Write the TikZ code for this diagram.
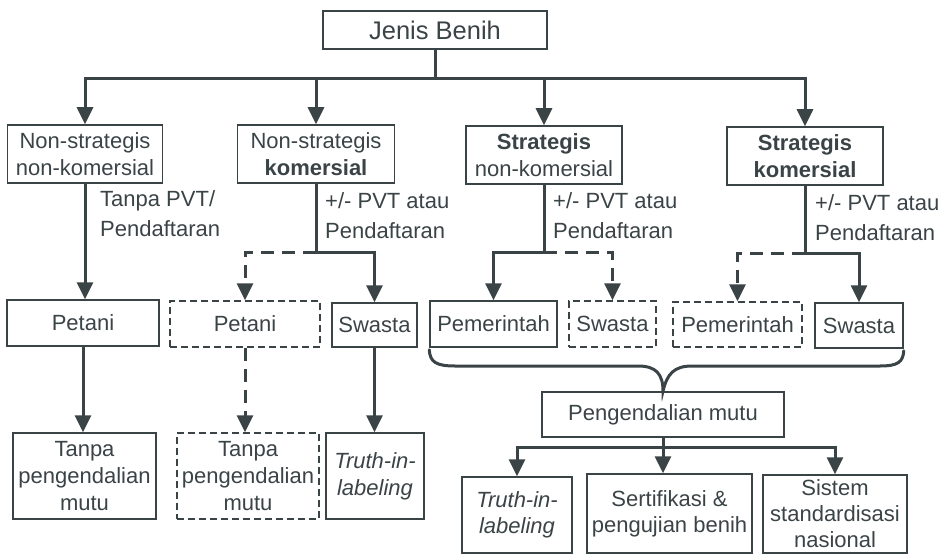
\documentclass[tikz,border=0pt]{standalone}
\usepackage{fontspec}
\setmainfont{Liberation Sans}
\usetikzlibrary{arrows.meta,calc}
\definecolor{ink}{HTML}{3A4346}
\newcommand\boxfont{\fontsize{22}{27}\selectfont}
\newcommand\labfont{\fontsize{22}{30}\selectfont}
\tikzset{
  box/.style={draw=ink, line width=1.5pt, text=ink, align=center, inner sep=0pt, font=\boxfont},
  dbox/.style={box, dash pattern=on 7pt off 4pt},
  lab/.style={text=ink, align=left, inner sep=0pt, anchor=north west, font=\labfont},
  conn/.style={draw=ink, line width=3pt},
  arr/.style={conn, -{Triangle[width=16pt,length=17pt]}},
  darr/.style={arr, dash pattern=on 13pt off 8pt},
}
\begin{document}
\begin{tikzpicture}[x=1pt,y=-1pt]
\useasboundingbox (0,0) rectangle (949,556);

% top level
\node[box, minimum width=224pt, minimum height=38pt, font=\fontsize{25.5}{28}\selectfont] (title) at (435,30) {Jenis Benih};

% first row: kinds of seed
\node[box, minimum width=155pt, minimum height=58pt] (b1) at (85,154) {Non-strategis\\non-komersial};
\node[box, minimum width=157pt, minimum height=58pt] (b2) at (316,154) {Non-strategis\\\textbf{komersial}};
\node[box, minimum width=156pt, minimum height=58pt] (b3) at (544,155) {\textbf{Strategis}\\non-komersial};
\node[box, minimum width=156pt, minimum height=58pt] (b4) at (805,156) {\textbf{Strategis}\\\textbf{komersial}};

% labels under the first row
\node[lab] (l1) at (100,190) {Tanpa PVT/\\Pendaftaran};
\node[lab] (l2) at (325,192) {+/- PVT atau\\Pendaftaran};
\node[lab] (l3) at (553,192) {+/- PVT atau\\Pendaftaran};
\node[lab] (l4) at (815,194) {+/- PVT atau\\Pendaftaran};

% second row: who handles the seed
\node[box, minimum width=152pt, minimum height=46pt] (p1) at (83,323) {Petani};
\node[dbox, minimum width=150pt, minimum height=46pt] (pd2) at (245,324) {Petani};
\node[box, minimum width=85pt, minimum height=44pt] (s2) at (374.5,325) {Swasta};
\node[box, minimum width=127pt, minimum height=46pt] (pm3) at (493.5,324) {Pemerintah};
\node[dbox, minimum width=87pt, minimum height=46pt] (sd3) at (612.5,324) {Swasta};
\node[dbox, minimum width=129pt, minimum height=45pt] (pmd4) at (737.5,324.5) {Pemerintah};
\node[box, minimum width=88pt, minimum height=45pt] (s4) at (859,325.5) {Swasta};

% third row, left part
\node[box, minimum width=143pt, minimum height=86pt] (t1) at (84.5,476) {Tanpa\\pengendalian\\mutu};
\node[dbox, minimum width=142pt, minimum height=86pt] (td2) at (248,476) {Tanpa\\pengendalian\\mutu};
\node[box, minimum width=98pt, minimum height=86pt] (tl2) at (375,476) {\textit{Truth-in-}\\\textit{labeling}};

% quality control
\node[box, minimum width=242pt, minimum height=45pt] (pg) at (663,414.5) {Pengendalian mutu};
\node[box, minimum width=110pt, minimum height=76pt, font=\fontsize{22}{26}\selectfont] (q1) at (517,515) {\textit{Truth-in-}\\\textit{labeling}};
\node[box, minimum width=165pt, minimum height=79pt, font=\fontsize{22}{26}\selectfont] (q2) at (669.5,513.5) {Sertifikasi \&\\pengujian benih};
\node[box, minimum width=144pt, minimum height=78pt, font=\fontsize{22}{26}\selectfont] (q3) at (835,514) {Sistem\\standardisasi\\nasional};

% branch points
\coordinate (j0) at (435,79);
\coordinate (k2) at (316,252);
\coordinate (k3) at (544,252);
\coordinate (k4) at (805,253);
\coordinate (k5) at ($(pg.south)+(0,10)$);

% connectors from the top
\draw[conn] (title.south) -- (j0);
\draw[arr] (j0) -| (b1);
\draw[arr] (j0) -| (b2);
\draw[arr] (j0) -| (b3);
\draw[arr] (j0) -| (b4);

% column 1
\draw[arr] (b1) -- (b1 |- p1.north);
\draw[arr] (p1) -- (p1 |- t1.north);

% column 2
\draw[conn] (b2) -- (k2);
\draw[darr] (k2) -| (pd2);
\draw[arr] (k2) -| (s2);
\draw[darr] (pd2) -- (pd2 |- td2.north);
\draw[arr] (s2) -- (s2 |- tl2.north);

% column 3
\draw[conn] (b3) -- (k3);
\draw[arr] (k3) -| (pm3);
\draw[darr] (k3) -| (sd3);

% column 4
\draw[conn] (b4) -- (k4);
\draw[darr] (k4) -| (pmd4);
\draw[arr] (k4) -| (s4);

% brace gathering the strategic branches
\draw[conn, line cap=round] ($(pm3.south west)+(0,2)$)
  .. controls (430,362) and (436,366) .. (455,366)
  -- (638,366)
  .. controls (656,366) and (663,374) .. (pg.north)
  .. controls (667,374) and (674,366) .. (692,366)
  -- (880,366)
  .. controls (898,366) and (903,362) .. ($(s4.south east)+(0,2)$);

% quality control branches
\draw[conn] (pg.south) -- (k5);
\draw[arr] (k5) -| (q1);
\draw[arr] (k5) -| (q3);
\draw[arr] (pg.south) -- (pg.south |- q2.north);
\end{tikzpicture}
\end{document}
